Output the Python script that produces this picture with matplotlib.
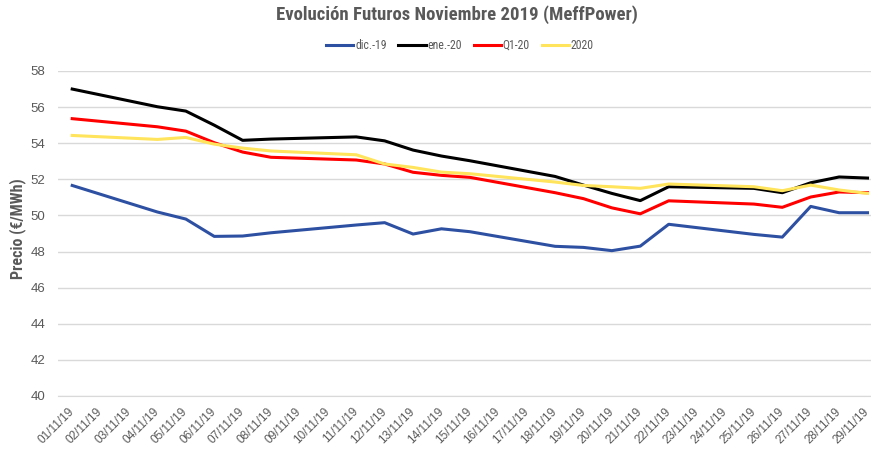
import matplotlib
matplotlib.use('Agg')
import matplotlib.pyplot as plt
import matplotlib.dates as mdates
from matplotlib import font_manager
import numpy as np
import pandas as pd

# Business days with quotes (weekends are simply joined by the line)
fechas = ['2019-11-01', '2019-11-04', '2019-11-05', '2019-11-06', '2019-11-07',
          '2019-11-08', '2019-11-11', '2019-11-12', '2019-11-13', '2019-11-14',
          '2019-11-15', '2019-11-18', '2019-11-19', '2019-11-20', '2019-11-21',
          '2019-11-22', '2019-11-25', '2019-11-26', '2019-11-27', '2019-11-28',
          '2019-11-29']
dic19 = [51.66, 50.19, 49.80, 48.84, 48.86, 49.04, 49.47, 49.60, 48.97, 49.26,
         49.10, 48.29, 48.23, 48.05, 48.30, 49.51, 48.95, 48.80, 50.50, 50.15, 50.15]
ene20 = [57.00, 56.02, 55.78, 55.00, 54.16, 54.23, 54.35, 54.13, 53.62, 53.29,
         53.03, 52.16, 51.68, 51.22, 50.82, 51.59, 51.50, 51.26, 51.81, 52.13, 52.07]
q120 = [55.36, 54.91, 54.67, 54.03, 53.51, 53.22, 53.07, 52.85, 52.39, 52.22,
        52.11, 51.26, 50.93, 50.42, 50.09, 50.81, 50.63, 50.45, 51.02, 51.30, 51.26]
y2020 = [54.43, 54.21, 54.32, 53.95, 53.73, 53.57, 53.36, 52.85, 52.66, 52.40,
         52.31, 51.85, 51.66, 51.59, 51.50, 51.74, 51.59, 51.37, 51.68, 51.41, 51.22]

series = [('dic.-19', dic19, '#2E50A2'),
          ('ene.-20', ene20, '#000000'),
          ('Q1-20', q120, '#FF0000'),
          ('2020', y2020, '#FFE45C')]


def pick_font(names):
    for n in names:
        try:
            font_manager.findfont(font_manager.FontProperties(family=n),
                                  fallback_to_default=False)
            return n
        except Exception:
            pass
    return 'DejaVu Sans'


narrow = pick_font(['Liberation Sans Narrow', 'DejaVu Sans Condensed', 'Roboto Condensed'])
regular = pick_font(['Liberation Sans', 'Arial'])
gris = '#595959'

x = pd.to_datetime(fechas)
dias = pd.date_range('2019-11-01', '2019-11-29', freq='D')

fig = plt.figure(figsize=(8.71, 4.61), dpi=100)
ax = fig.add_axes([0.0666, 0.141, 0.9457, 0.705])

for nombre, vals, color in series:
    ax.plot(x, vals, color=color, lw=2.2, label=nombre, solid_joinstyle='round')

ax.set_ylim(40, 58)
ax.set_yticks(np.arange(40, 59, 2))
ax.set_xlim(dias[0] - pd.Timedelta(hours=12), dias[-1] + pd.Timedelta(hours=12))
ax.set_xticks(dias)
ax.xaxis.set_major_formatter(mdates.DateFormatter('%d/%m/%y'))

ax.grid(axis='y', color='#D9D9D9', lw=1)
ax.set_axisbelow(True)
for s in ['top', 'right', 'left']:
    ax.spines[s].set_visible(False)
ax.spines['bottom'].set_color('#D9D9D9')
ax.tick_params(axis='both', length=0, colors=gris)
ax.tick_params(axis='y', pad=9, labelsize=9.5)
ax.tick_params(axis='x', pad=10, labelsize=8.5)
for lab in ax.get_yticklabels():
    lab.set_family(regular)
for lab in ax.get_xticklabels():
    lab.set_family(regular)
    lab.set_rotation(45)
    lab.set_ha('right')
    lab.set_va('center')
    lab.set_rotation_mode('anchor')

fig.text(0.525, 0.968, 'Evolución Futuros Noviembre 2019 (MeffPower)',
         ha='center', va='center', fontsize=13.5, fontweight='bold',
         color=gris, family=narrow)
fig.text(0.020, 0.503, 'Precio (€/MWh)', rotation=90, ha='center', va='center',
         fontsize=11.5, fontweight='bold', color=gris, family=narrow)

leg = fig.legend(loc='center', bbox_to_anchor=(0.528, 0.902), ncol=4, frameon=False,
                 handlelength=2.3, handletextpad=0.15, columnspacing=1.0,
                 prop={'family': narrow, 'size': 8.5})
for t in leg.get_texts():
    t.set_color(gris)

fig.savefig('out.png', dpi=100)
